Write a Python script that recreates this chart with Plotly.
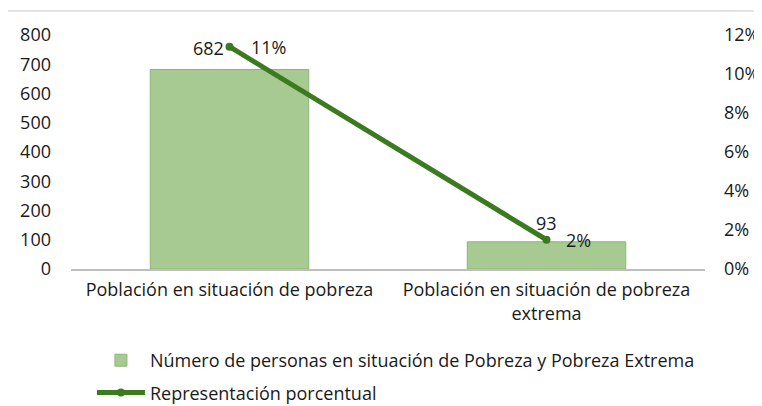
import plotly.graph_objects as go

categories = ["Población en situación de pobreza", "Población en situación de pobreza<br>extrema"]
personas = [682, 93]
porcentaje = [0.114, 0.015]
pct_labels = ["11%", "2%"]
left_ticks = [0, 100, 200, 300, 400, 500, 600, 700, 800]
right_ticks = [0, 0.02, 0.04, 0.06, 0.08, 0.10, 0.12]

FONT = "Open Sans"
TXT = "#1a1a1a"
FS = 18
fig = go.Figure()
fig.add_trace(go.Bar(
    x=categories, y=personas, width=0.5,
    name="Número de personas en situación de Pobreza y Pobreza Extrema",
    legendgroup="a",
    marker=dict(color="#a7ca93", line=dict(color="#8cb678", width=1)),
))
fig.add_trace(go.Scatter(
    x=categories, y=porcentaje, yaxis="y2", mode="lines+markers",
    name="Representación porcentual", legendgroup="b",
    line=dict(color="#3b7a1f", width=5),
    marker=dict(color="#3b7a1f", size=8),
))
for cat, v, dx, dy in zip(categories, personas, [-21, 0], [22, 19]):
    fig.add_annotation(x=cat, y=v, text=str(v), showarrow=False, xshift=dx, yshift=dy,
                       font=dict(size=FS, color=TXT, family=FONT))
for cat, p, lab, dx in zip(categories, porcentaje, pct_labels, [39, 32]):
    fig.add_annotation(x=cat, y=p, yref="y2", text=lab, showarrow=False, xshift=dx, yshift=0,
                       font=dict(size=FS, color=TXT, family=FONT))

fig.add_shape(type="line", xref="paper", yref="paper", x0=-0.0994, x1=1.1, y0=1.1026, y1=1.1026,
              line=dict(color="#d9d9d9", width=1.5))

fig.update_layout(
    width=754, height=440,
    margin=dict(l=63, r=57, t=27, b=179),
    plot_bgcolor="white", paper_bgcolor="white",
    font=dict(family=FONT, size=FS, color=TXT),
    xaxis=dict(showline=True, linecolor="#bfbfbf", linewidth=1.5, ticks="", tickfont=dict(size=FS),
               automargin=False, ticklabelstandoff=4),
    yaxis=dict(range=[0, 800], tickvals=left_ticks, showgrid=False, zeroline=False,
               tickfont=dict(size=FS), ticklabelstandoff=19, automargin=False),
    yaxis2=dict(range=[0, 0.12], tickvals=right_ticks, tickformat=".0%", overlaying="y",
                side="right", showgrid=False, zeroline=False, automargin=False,
                tickfont=dict(size=FS), ticklabelstandoff=18),
    legend=dict(orientation="v", x=0.033, xanchor="left", y=-0.312, yanchor="top",
                font=dict(size=FS), itemwidth=48, tracegroupgap=6),
    showlegend=True,
)
fig.write_html("out.html")
